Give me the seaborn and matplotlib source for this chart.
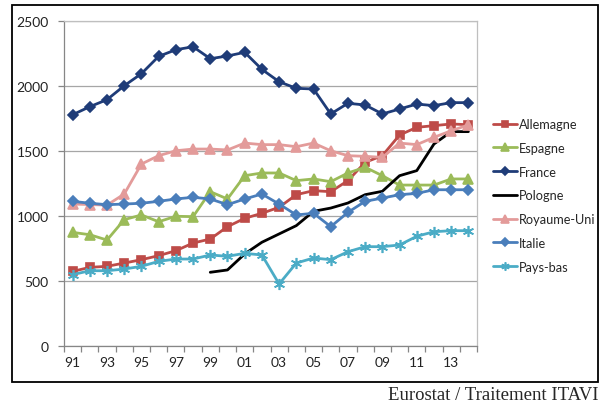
import numpy as np
import pandas as pd
import matplotlib
matplotlib.use("Agg")
import matplotlib.pyplot as plt
from matplotlib.patches import Rectangle
import seaborn as sns

years = list(range(1991, 2015))
year_labels = [f"{y % 100:02d}" for y in years]

allemagne = [574, 605, 613, 638, 664, 695, 733, 792, 823, 918, 982, 1021,
             1067, 1164, 1195, 1187, 1272, 1413, 1464, 1623, 1682, 1695, 1708, 1702]
espagne = [874, 856, 815, 972, 1008, 956, 998, 995, 1187, 1131, 1310, 1331,
           1331, 1272, 1285, 1264, 1331, 1375, 1310, 1238, 1238, 1238, 1285, 1285]
france = [1779, 1841, 1895, 2002, 2095, 2228, 2279, 2302, 2210, 2231, 2259, 2128,
          2033, 1982, 1977, 1785, 1867, 1854, 1785, 1823, 1861, 1849, 1872, 1872]
pologne = [None] * 8 + [567, 585, 708, 798, 862, 926, 1036, 1061, 1100, 1164,
                        1190, 1310, 1349, 1554, 1649, 1649]
royaume_uni = [1092, 1088, 1084, 1169, 1400, 1464, 1502, 1515, 1515, 1508, 1561, 1549,
               1549, 1533, 1561, 1502, 1464, 1459, 1451, 1561, 1549, 1605, 1656, 1700]
italie = [1113, 1098, 1087, 1092, 1098, 1113, 1131, 1144, 1131, 1087, 1131, 1169,
          1092, 1008, 1021, 918, 1028, 1113, 1138, 1164, 1174, 1202, 1202, 1202]
pays_bas = [549, 579, 579, 592, 613, 651, 669, 669, 700, 690, 713, 700,
            477, 638, 677, 664, 725, 764, 764, 777, 844, 879, 887, 887]

series = {
    "Allemagne": allemagne,
    "Espagne": espagne,
    "France": france,
    "Pologne": pologne,
    "Royaume-Uni": royaume_uni,
    "Italie": italie,
    "Pays-bas": pays_bas,
}

styles = {
    "Allemagne": dict(color="#BE4B48", marker="s", ms=6),
    "Espagne": dict(color="#9BBB59", marker="^", ms=7),
    "France": dict(color="#1F3C78", marker="D", ms=5),
    "Pologne": dict(color="#000000", marker=None, ms=0),
    "Royaume-Uni": dict(color="#E39B9A", marker="^", ms=7),
    "Italie": dict(color="#4A7EBB", marker="D", ms=5),
    "Pays-bas": dict(color="#4BACC6", marker=(6, 2, 0), ms=8),
}

rows = []
for name, vals in series.items():
    for i, v in enumerate(vals):
        if v is not None:
            rows.append({"idx": i, "valeur": v, "pays": name})
df = pd.DataFrame(rows)

sns.set_style("white")
plt.rcParams["font.family"] = ["Lato", "DejaVu Sans"]

fig = plt.figure(figsize=(6.0, 4.06), dpi=100)
ax = fig.add_axes([64 / 600, 1 - 347 / 406, (477 - 64) / 600, (347 - 22) / 406])

for name in series:
    st = styles[name]
    sub = df[df["pays"] == name]
    kw = dict(color=st["color"], linewidth=2.0, label=name)
    if st["marker"] is not None:
        kw.update(marker=st["marker"], markersize=st["ms"],
                  markeredgecolor=st["color"], markerfacecolor=st["color"],
                  markeredgewidth=1.2)
    sns.lineplot(data=sub, x="idx", y="valeur", ax=ax, **kw)

ax.set_xlim(-0.5, len(years) - 0.5)
ax.set_ylim(0, 2500)
ax.set_yticks([0, 500, 1000, 1500, 2000, 2500])
ax.yaxis.grid(True, color="#A6A6A6", linewidth=0.9)
ax.set_axisbelow(True)

ax.set_xticks(range(0, len(years), 2))
ax.set_xticklabels(year_labels[::2])
ax.set_xticks(np.arange(-0.5, len(years), 1), minor=True)
ax.tick_params(axis="x", which="major", length=0, pad=7, labelsize=10, colors="#222222")
ax.tick_params(axis="x", which="minor", length=4, width=0.9, color="#868686", bottom=True)
ax.tick_params(axis="y", which="major", length=4, width=0.9, color="#868686",
               left=True, labelsize=10, labelcolor="#222222", pad=7)
ax.set_xlabel("")
ax.set_ylabel("")

for side in ["left", "bottom"]:
    ax.spines[side].set_color("#868686")
    ax.spines[side].set_linewidth(0.9)
for side in ["top", "right"]:
    ax.spines[side].set_color("#BFBFBF")
    ax.spines[side].set_linewidth(0.9)

handles, labels = ax.get_legend_handles_labels()
if ax.get_legend():
    ax.get_legend().remove()
fig.legend(handles, labels, loc="upper left", bbox_to_anchor=(493 / 600, 1 - 119 / 406),
           frameon=False, fontsize=9.2, handlelength=1.9, handletextpad=0.1,
           labelspacing=0.92, borderaxespad=0, borderpad=0, markerscale=0.75)

# outer frame around the chart
frame = Rectangle((12 / 600, 1 - 383 / 406), 586 / 600, 377 / 406,
                  transform=fig.transFigure, fill=False, edgecolor="#000000",
                  linewidth=1.3)
fig.patches.append(frame)

fig.text(598 / 600, 1 - 396 / 406, "Eurostat / Traitement ITAVI",
         ha="right", va="center", fontsize=13.5, family="Liberation Serif")

fig.savefig("out.png", dpi=100)
